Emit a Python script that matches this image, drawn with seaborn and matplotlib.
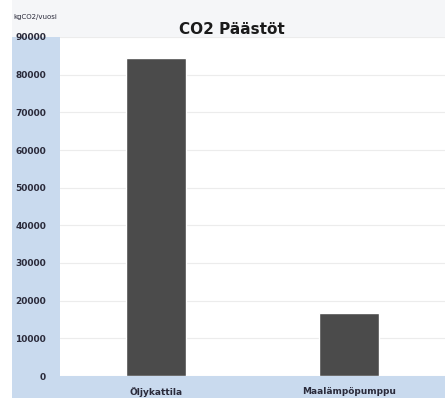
import matplotlib
matplotlib.use('Agg')
import matplotlib.pyplot as plt
import seaborn as sns
import pandas as pd
from matplotlib.patches import Rectangle

categories = ["Öljykattila", "Maalämpöpumppu"]
emissions = [84300, 16800]
y_ticks = [0, 10000, 20000, 30000, 40000, 50000, 60000, 70000, 80000, 90000]

df = pd.DataFrame({"lammitys": categories, "co2": emissions})

sns.set_theme(style="white")
plt.rcParams['font.family'] = ['DejaVu Sans']

W, H = 445, 398
fig = plt.figure(figsize=(W / 100, H / 100), dpi=100, facecolor="white")

# background bands (figure coords from pixel values)
fig.patches.append(Rectangle((12 / W, 0), 1 - 12 / W, 1, transform=fig.transFigure,
                             facecolor="#f5f6f8", edgecolor="none", zorder=-3))
fig.patches.append(Rectangle((12 / W, 0), (60 - 12) / W, (H - 37) / H, transform=fig.transFigure,
                             facecolor="#c9daee", edgecolor="none", zorder=-2))
fig.patches.append(Rectangle((12 / W, 0), 1 - 12 / W, (H - 376) / H, transform=fig.transFigure,
                             facecolor="#c9daee", edgecolor="none", zorder=-2))

ax = fig.add_axes([60 / W, (H - 376) / H, 1 - 60 / W, (376 - 37) / H])
ax.set_facecolor("white")

sns.barplot(data=df, x="lammitys", y="co2", color="#4b4b4b", width=0.31,
            saturation=1, ax=ax, zorder=3)

ax.set_ylim(0, 90000)
ax.set_yticks(y_ticks)
ax.set_yticklabels([str(v) for v in y_ticks], fontsize=6.5, fontweight="bold", color="#2a2a3a")
ax.tick_params(axis="y", pad=10, length=0)
ax.tick_params(axis="x", pad=8, length=0)
for lbl in ax.get_xticklabels():
    lbl.set_fontsize(6.5)
    lbl.set_fontweight("bold")
    lbl.set_color("#2a2a3a")
ax.set_xlabel("")
ax.set_ylabel("")
ax.yaxis.grid(True, color="#ececec", linewidth=0.8)
ax.set_axisbelow(True)
for s in ax.spines.values():
    s.set_visible(False)

fig.text(232 / W, 1 - 29 / H, "CO2 Päästöt", ha="center", va="center",
         fontsize=11, fontweight="bold", color="#1a1a1a")
fig.text(13 / W, 1 - 17 / H, "kgCO2/vuosi", ha="left", va="center",
         fontsize=5, color="#2a2a3a")

fig.savefig("out.png", dpi=100)
plt.close(fig)
